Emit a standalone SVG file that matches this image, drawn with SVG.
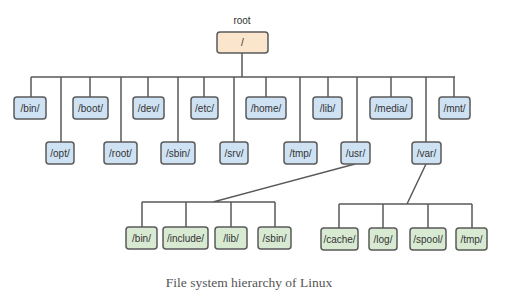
<svg xmlns="http://www.w3.org/2000/svg" width="514" height="298" viewBox="0 0 514 298">
<style>
.b{stroke:#5a5a5a;stroke-width:1.5}
.blue{fill:#cfe2f3}
.or{fill:#fce5cd}
.gr{fill:#d9ead3}
.t{font-family:"Liberation Sans",Arial,sans-serif;font-size:10px;fill:#333;text-anchor:middle}
.c{fill:none;stroke:#5a5a5a;stroke-width:1.5}
</style>
<rect width="514" height="298" fill="#fff"/>
<g id="connectors">
<path class="c" d="M242 53V77M31 77H455M31 77V97M61 77V142M90 77V97M121 77V142M148 77V97M178 77V142M204 77V97M234 77V142M266 77V97M300 77V142M328 77V97M357 77V142M391 77V97M426 77V142M454 77V97"/>
<path class="c" d="M355 164L213 202M142 202H275M142 202V227M186 202V227M231 202V227M275 202V227"/>
<path class="c" d="M426 164L407 204M339 204H472M339 204V228M383 204V228M428 204V228M472 204V228"/>
</g>
<text class="t" x="242" y="24">root</text>
<g id="n-root"><rect class="b or" x="217" y="32" width="51" height="21" rx="3"/><text class="t" x="242.5" y="46">/</text></g>
<g id="n-bin"><rect class="b blue" x="14" y="97" width="32" height="22" rx="3"/><text class="t" x="30" y="111.5">/bin/</text></g>
<g id="n-boot"><rect class="b blue" x="73" y="97" width="35" height="22" rx="3"/><text class="t" x="90.5" y="111.5">/boot/</text></g>
<g id="n-dev"><rect class="b blue" x="133" y="97" width="31" height="22" rx="3"/><text class="t" x="148.5" y="111.5">/dev/</text></g>
<g id="n-etc"><rect class="b blue" x="191" y="97" width="27" height="22" rx="3"/><text class="t" x="204.5" y="111.5">/etc/</text></g>
<g id="n-home"><rect class="b blue" x="246" y="97" width="40" height="22" rx="3"/><text class="t" x="266" y="111.5">/home/</text></g>
<g id="n-lib"><rect class="b blue" x="313" y="97" width="29" height="22" rx="3"/><text class="t" x="327.5" y="111.5">/lib/</text></g>
<g id="n-media"><rect class="b blue" x="370" y="97" width="42" height="22" rx="3"/><text class="t" x="391" y="111.5">/media/</text></g>
<g id="n-mnt"><rect class="b blue" x="439" y="97" width="31" height="22" rx="3"/><text class="t" x="454.5" y="111.5">/mnt/</text></g>
<g id="n-opt"><rect class="b blue" x="46" y="142" width="28" height="22" rx="3"/><text class="t" x="60" y="156.5">/opt/</text></g>
<g id="n-rootdir"><rect class="b blue" x="104" y="142" width="33" height="22" rx="3"/><text class="t" x="120.5" y="156.5">/root/</text></g>
<g id="n-sbin"><rect class="b blue" x="161" y="142" width="34" height="22" rx="3"/><text class="t" x="178" y="156.5">/sbin/</text></g>
<g id="n-srv"><rect class="b blue" x="220" y="142" width="28" height="22" rx="3"/><text class="t" x="234" y="156.5">/srv/</text></g>
<g id="n-tmp"><rect class="b blue" x="284" y="142" width="33" height="22" rx="3"/><text class="t" x="300.5" y="156.5">/tmp/</text></g>
<g id="n-usr"><rect class="b blue" x="341" y="142" width="29" height="22" rx="3"/><text class="t" x="355.5" y="156.5">/usr/</text></g>
<g id="n-var"><rect class="b blue" x="412" y="142" width="29" height="22" rx="3"/><text class="t" x="426.5" y="156.5">/var/</text></g>
<g id="n-usr-bin"><rect class="b gr" x="126" y="227" width="31" height="22" rx="3"/><text class="t" x="141.5" y="241.5">/bin/</text></g>
<g id="n-usr-include"><rect class="b gr" x="163" y="227" width="45" height="22" rx="3"/><text class="t" x="185.5" y="241.5">/include/</text></g>
<g id="n-usr-lib"><rect class="b gr" x="215" y="227" width="32" height="22" rx="3"/><text class="t" x="231" y="241.5">/lib/</text></g>
<g id="n-usr-sbin"><rect class="b gr" x="258" y="227" width="33" height="22" rx="3"/><text class="t" x="274.5" y="241.5">/sbin/</text></g>
<g id="n-var-cache"><rect class="b gr" x="321" y="228" width="37" height="22" rx="3"/><text class="t" x="339.5" y="242.5">/cache/</text></g>
<g id="n-var-log"><rect class="b gr" x="369" y="228" width="28" height="22" rx="3"/><text class="t" x="383" y="242.5">/log/</text></g>
<g id="n-var-spool"><rect class="b gr" x="410" y="228" width="36" height="22" rx="3"/><text class="t" x="428" y="242.5">/spool/</text></g>
<g id="n-var-tmp"><rect class="b gr" x="456" y="228" width="31" height="22" rx="3"/><text class="t" x="471.5" y="242.5">/tmp/</text></g>
<text x="249" y="287" font-family="'Liberation Serif','Times New Roman',serif" font-size="13.5" fill="#555" text-anchor="middle">File system hierarchy of Linux</text>
</svg>
